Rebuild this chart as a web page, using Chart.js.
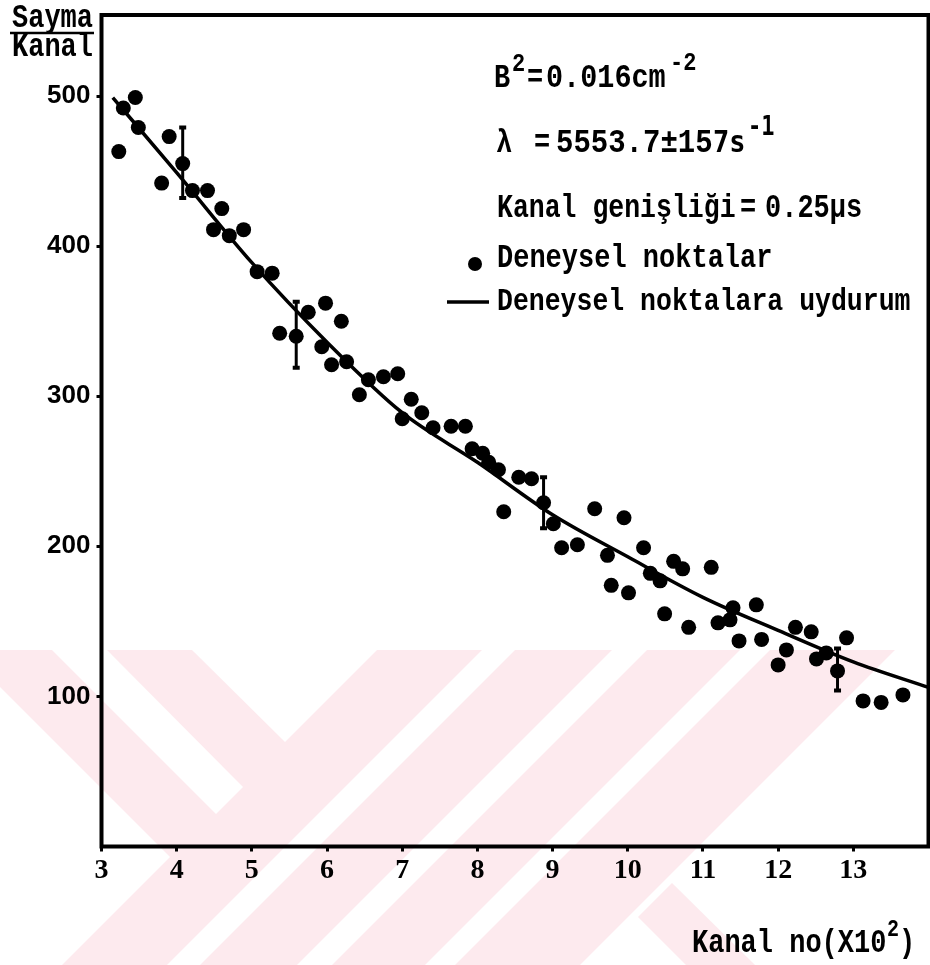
<!DOCTYPE html>
<html>
<head>
<meta charset="utf-8">
<script src="https://cdn.jsdelivr.net/npm/chart.js@4.4.1/dist/chart.umd.min.js"></script>
<style>
  html, body { margin: 0; padding: 0; background: #fff; }
  #wrap { width: 930px; height: 965px; }
</style>
</head>
<body>
<div id="wrap"><canvas id="c" width="930" height="965"></canvas></div>
<script>
// kanal no (x10^2) ve sayma/kanal degerleri
const pointsX = [3.23, 3.29, 3.45, 3.49, 3.80, 3.90, 4.08, 4.21, 4.41, 4.49, 4.60, 4.70, 4.89, 5.07, 5.27,
  5.37, 5.59, 5.75, 5.93, 5.98, 6.06, 6.19, 6.26, 6.43, 6.55, 6.75, 6.94, 7.00, 7.12, 7.26,
  7.41, 7.65, 7.84, 7.93, 8.07, 8.15, 8.28, 8.35, 8.55, 8.72, 8.88, 9.01, 9.12, 9.33, 9.56,
  9.73, 9.78, 9.95, 10.01, 10.21, 10.30, 10.43, 10.49, 10.61, 10.73, 10.81, 11.11, 11.20, 11.36, 11.40,
  11.48, 11.71, 11.78, 12.00, 12.11, 12.23, 12.44, 12.51, 12.64, 12.79, 12.91, 13.13, 13.37, 13.66];
const pointsY = [463, 492, 499, 479, 442, 473, 455, 437, 437, 411, 425, 407, 411, 383, 382,
  342, 340, 356, 333, 362, 321, 350, 323, 301, 311, 313, 315, 285, 298, 289,
  279, 280, 280, 265, 262, 256, 251, 223, 246, 245, 229, 215, 199, 201, 225,
  194, 174, 219, 169, 199, 182, 177, 155, 190, 185, 146, 186, 149, 151, 159,
  137, 161, 138, 121, 131, 146, 143, 125, 129, 117, 139, 97, 96, 101];

// uydurma egrisi (grafikteki cizgiden okunan noktalar)
const fitX = [3.15, 4, 5, 6, 7, 8, 9, 10, 11, 12, 13, 14];
const fitY = [499, 449, 389, 336, 289, 256, 221, 193, 166, 144, 123, 106];

// hata cubuklari
const errX = [4.08, 5.59, 8.88, 12.79];
const errLo = [432, 319, 212, 104];
const errHi = [479, 363, 246, 132];

const xTicks = [3, 4, 5, 6, 7, 8, 9, 10, 11, 12, 13];
const yTicks = [100, 200, 300, 400, 500];

const MONO = 'bold 27px "Liberation Mono"';

function txt(ctx, s, x, y, font, sy) {
  ctx.save();
  ctx.translate(x, y);
  ctx.scale(1, sy || 1.2);
  ctx.font = font || MONO;
  ctx.fillStyle = '#000';
  ctx.textBaseline = 'alphabetic';
  ctx.textAlign = 'left';
  ctx.fillText(s, 0, 0);
  ctx.restore();
}

function poly(ctx, pts, color) {
  ctx.beginPath();
  ctx.moveTo(pts[0][0], pts[0][1]);
  for (let i = 1; i < pts.length; i++) ctx.lineTo(pts[i][0], pts[i][1]);
  ctx.closePath();
  ctx.fillStyle = color;
  ctx.fill();
}

// arka plandaki soluk filigran
const watermark = {
  id: 'watermark',
  beforeDraw(chart) {
    const ctx = chart.ctx;
    ctx.save();
    ctx.fillStyle = '#fff';
    ctx.fillRect(0, 0, chart.width, chart.height);
    const pink = '#fdeaee';
    poly(ctx, [[0, 650], [930, 650], [930, 965], [0, 965]], pink);
    poly(ctx, [[52, 650], [107, 650], [243, 787], [216, 814]], '#fff');
    poly(ctx, [[192, 650], [377, 650], [285, 742]], '#fff');
    poly(ctx, [[0, 687], [170, 857], [62, 965], [0, 965]], '#fff');
    poly(ctx, [[482, 650], [515, 650], [200, 965], [167, 965]], '#fff');
    poly(ctx, [[612, 650], [647, 650], [332, 965], [297, 965]], '#fff');
    poly(ctx, [[740, 650], [770, 650], [455, 965], [425, 965]], '#fff');
    poly(ctx, [[895, 650], [930, 650], [930, 965], [580, 965]], '#fff');
    poly(ctx, [[638, 917], [672, 883], [755, 965], [686, 965]], pink);
    ctx.restore();
  }
};

// hata cubuklari, cerceve ve yazilar
const extras = {
  id: 'extras',
  afterDatasetsDraw(chart) {
    const ctx = chart.ctx;
    const xs = chart.scales.x, ys = chart.scales.y;
    ctx.save();
    ctx.strokeStyle = '#000';
    ctx.fillStyle = '#000';
    errX.forEach((v, i) => {
      const px = xs.getPixelForValue(v);
      const y1 = ys.getPixelForValue(errLo[i]);
      const y2 = ys.getPixelForValue(errHi[i]);
      ctx.lineWidth = 3;
      ctx.beginPath();
      ctx.moveTo(px, y1);
      ctx.lineTo(px, y2);
      ctx.stroke();
      ctx.lineWidth = 4;
      ctx.beginPath();
      ctx.moveTo(px - 3.5, y1); ctx.lineTo(px + 3.5, y1);
      ctx.moveTo(px - 3.5, y2); ctx.lineTo(px + 3.5, y2);
      ctx.stroke();
    });
    ctx.restore();
  },
  afterDraw(chart) {
    const ctx = chart.ctx;
    const a = chart.chartArea;
    ctx.save();
    ctx.strokeStyle = '#000';
    ctx.lineWidth = 4;
    ctx.strokeRect(a.left, a.top, a.right - a.left, a.bottom - a.top);

    // eksen basliklari
    txt(ctx, 'Sayma', 12, 27);
    ctx.lineWidth = 2.5;
    ctx.beginPath();
    ctx.moveTo(10, 33);
    ctx.lineTo(94, 33);
    ctx.stroke();
    txt(ctx, 'Kanal', 12, 56);
    txt(ctx, 'Kanal no(X10', 692, 952);
    txt(ctx, '2', 887, 936, 'bold 20px "Liberation Mono"', 1.2);
    txt(ctx, ')', 899, 952);

    // parametreler
    txt(ctx, 'B', 494, 87);
    txt(ctx, '2', 512, 71, 'bold 22px "Liberation Mono"', 1.2);
    txt(ctx, '=', 527, 87);
    txt(ctx, '0.016cm', 546, 87, 'bold 28.5px "Liberation Mono"', 1.15);
    txt(ctx, '-2', 670, 70, 'bold 22px "Liberation Mono"', 1.2);

    txt(ctx, '\u03bb', 496, 152);
    txt(ctx, '=', 534, 152);
    txt(ctx, '5553.7\u00b115', 556, 152, 'bold 29px "Liberation Mono"', 1.12);
    txt(ctx, '7s', 713, 152, '900 27px "DejaVu Sans Mono"', 1.1);
    txt(ctx, '-1', 748, 135, '900 22px "DejaVu Sans Mono"', 1.2);

    txt(ctx, 'Kanal geni\u015fli\u011fi', 497, 217, 'bold 26.5px "Liberation Mono"', 1.22);
    txt(ctx, '=', 740, 217);
    txt(ctx, '0.25\u00b5s', 765, 217);

    // aciklama
    ctx.beginPath();
    ctx.arc(475, 264, 7, 0, Math.PI * 2);
    ctx.fill();
    txt(ctx, 'Deneysel noktalar', 497, 267);
    ctx.lineWidth = 3.5;
    ctx.beginPath();
    ctx.moveTo(447, 302);
    ctx.lineTo(489, 302);
    ctx.stroke();
    txt(ctx, 'Deneysel noktalara uydurum', 497, 310, 'bold 26.5px "Liberation Mono"', 1.2);
    ctx.restore();
  }
};

new Chart(document.getElementById('c'), {
  type: 'scatter',
  data: {
    datasets: [
      {
        type: 'line',
        label: 'Deneysel noktalara uydurum',
        data: fitX.map((x, i) => ({ x: x, y: fitY[i] })),
        borderColor: '#000',
        borderWidth: 3.5,
        pointRadius: 0,
        cubicInterpolationMode: 'monotone',
        fill: false
      },
      {
        label: 'Deneysel noktalar',
        data: pointsX.map((x, i) => ({ x: x, y: pointsY[i] })),
        backgroundColor: '#000',
        borderColor: '#000',
        pointRadius: 7.5,
        pointBorderWidth: 0
      }
    ]
  },
  options: {
    responsive: false,
    animation: false,
    devicePixelRatio: 1,
    layout: { autoPadding: false, padding: { left: 0, right: 1.5, top: 15, bottom: 0 } },
    plugins: { legend: { display: false }, tooltip: { enabled: false } },
    scales: {
      x: {
        type: 'linear',
        min: 3,
        max: 14,
        afterBuildTicks: s => { s.ticks = xTicks.map(v => ({ value: v })); },
        afterFit: s => { s.height = 118.5; s.paddingLeft = 0; s.paddingRight = 0; },
        border: { display: false },
        grid: { drawOnChartArea: false, drawTicks: true, tickLength: 5, color: '#000', lineWidth: 3 },
        ticks: {
          color: '#000',
          padding: 2,
          maxRotation: 0,
          autoSkip: false,
          font: { family: '"Liberation Serif"', size: 28, weight: 'bold' }
        }
      },
      y: {
        type: 'linear',
        min: 0,
        max: 554,
        afterBuildTicks: s => { s.ticks = yTicks.map(v => ({ value: v })); },
        afterFit: s => { s.width = 101.5; s.paddingTop = 0; s.paddingBottom = 0; },
        border: { display: false },
        grid: { drawOnChartArea: false, drawTicks: true, tickLength: 5, color: '#000', lineWidth: 3 },
        ticks: {
          color: '#000',
          padding: 6,
          autoSkip: false,
          font: { family: '"Liberation Sans"', size: 26, weight: 'bold' }
        }
      }
    }
  },
  plugins: [watermark, extras]
});
</script>
</body>
</html>
